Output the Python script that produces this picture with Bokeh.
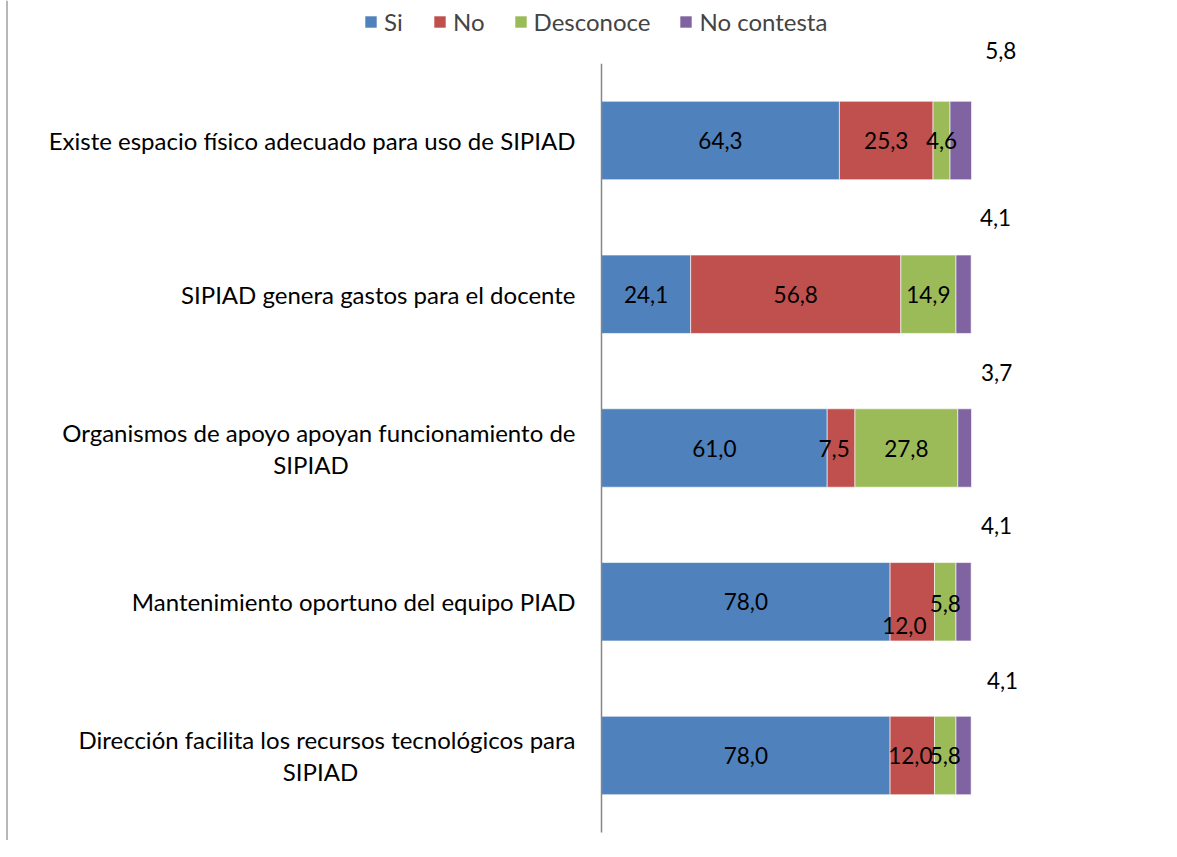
from bokeh.plotting import figure
from bokeh.models import Range1d, ColumnDataSource, Legend, LegendItem
from bokeh.core.properties import value
from bokeh.embed import file_html
from bokeh.resources import INLINE

# ---- data ----
categories = [
    "Existe espacio físico adecuado para uso de SIPIAD",
    "SIPIAD genera gastos para el docente",
    "Organismos de apoyo apoyan funcionamiento de\nSIPIAD",
    "Mantenimiento oportuno del equipo PIAD",
    "Dirección facilita los recursos tecnológicos para\nSIPIAD",
]
series_names = ["Si", "No", "Desconoce", "No contesta"]
si = [64.3, 24.1, 61.0, 78.0, 78.0]
no = [25.3, 56.8, 7.5, 12.0, 12.0]
desconoce = [4.6, 14.9, 27.8, 5.8, 5.8]
no_contesta = [5.8, 4.1, 3.7, 4.1, 4.1]

colors = ["#4F81BD", "#C0504D", "#9BBB59", "#8064A2"]
FONT = "Lato"
FS = "24px"
FS_NUM = "22.5px"

W, H = 1160, 840
PX_PER_UNIT = 3.7
AXIS_X = 601        # screen x of value 0
ROW0_Y = 140        # screen y of first category centre
ROW_STEP = 153.75

p = figure(width=W, height=H, output_backend="svg", toolbar_location=None,
           x_range=Range1d(-AXIS_X / PX_PER_UNIT, (W - AXIS_X) / PX_PER_UNIT),
           y_range=Range1d((H - ROW0_Y) / ROW_STEP, -ROW0_Y / ROW_STEP),
           min_border=0, min_border_left=0, min_border_right=0,
           min_border_top=0, min_border_bottom=0)
p.axis.visible = False
p.grid.visible = False
p.outline_line_color = None
p.background_fill_color = "white"
p.border_fill_color = "white"

ypos = list(range(len(categories)))
series = [si, no, desconoce, no_contesta]

# stacked bars
lefts = [0.0] * len(categories)
renderers = []
seg_centers = []
for vals, col in zip(series, colors):
    rights = [l + v for l, v in zip(lefts, vals)]
    src = ColumnDataSource(dict(y=ypos, left=lefts, right=rights))
    r = p.hbar(y="y", left="left", right="right", height=0.51, source=src,
               fill_color=col, line_color="white", line_width=0.6)
    renderers.append(r)
    seg_centers.append([(l + rr) / 2 for l, rr in zip(lefts, rights)])
    lefts = rights

# value labels (pixel nudges are style only)
nudges_x = [
    [0, 0, 0, 0, 0],
    [0, 0, -7, -8, -2],
    [0, 0, 0, 0, 0],
    [40, 32, 32, 33, 39],
]
nudges_y = [
    [0, 0, 0, 0, 0],
    [0, 0, 0, 24, 0],
    [0, 0, 0, 2, 0],
    [-90, -77, -76, -76, -75],
]
for k, vals in enumerate(series):
    src = ColumnDataSource(dict(
        x=seg_centers[k], y=ypos,
        t=[f"{v:.1f}".replace(".", ",") for v in vals],
        dx=nudges_x[k], dy=nudges_y[k]))
    p.text(x="x", y="y", text="t", x_offset="dx", y_offset="dy", source=src,
           text_font=value(FONT), text_font_size=FS_NUM, text_color="black",
           text_align="center", text_baseline="middle")

# category labels
line1 = [c.split("\n")[0] for c in categories]
line2 = [c.split("\n")[1] if "\n" in c else "" for c in categories]
single = [i for i in ypos if line2[i] == ""]
double = [i for i in ypos if line2[i] != ""]
p.text(x=[0] * len(single), y=single, text=[line1[i] for i in single],
       x_offset=-26, text_font=value(FONT), text_font_size=FS,
       text_color="black", text_align="right", text_baseline="middle")
p.text(x=[0] * len(double), y=double, text=[line1[i] for i in double],
       x_offset=-26, y_offset=-16, text_font=value(FONT), text_font_size=FS,
       text_color="black", text_align="right", text_baseline="middle")
line1_widths = {2: 529, 4: 510}
for i in double:
    p.text(x=[0], y=[i], text=[line2[i]],
           x_offset=-(26 + line1_widths[i] / 2), y_offset=16,
           text_font=value(FONT), text_font_size=FS, text_color="black",
           text_align="center", text_baseline="middle")

# category axis line
p.segment(x0=[0], x1=[0], y0=[-0.5], y1=[len(categories) - 0.5],
          line_color="#868686", line_width=1.5)

# chart area left border
xs = p.x_range.start + 6.5 / PX_PER_UNIT
p.segment(x0=[xs], x1=[xs], y0=[p.y_range.start], y1=[p.y_range.end],
          line_color="#888888", line_width=1.2)

legend = Legend(items=[LegendItem(label=n, renderers=[r]) for n, r in zip(series_names, renderers)],
                orientation="horizontal", location=(363, 804),
                label_text_font=FONT, label_text_font_size=FS,
                glyph_width=15, glyph_height=15, label_standoff=6, spacing=28,
                padding=0, margin=0, border_line_color=None,
                background_fill_alpha=0)
p.add_layout(legend)

open("out.html", "w").write(file_html(p, INLINE))
